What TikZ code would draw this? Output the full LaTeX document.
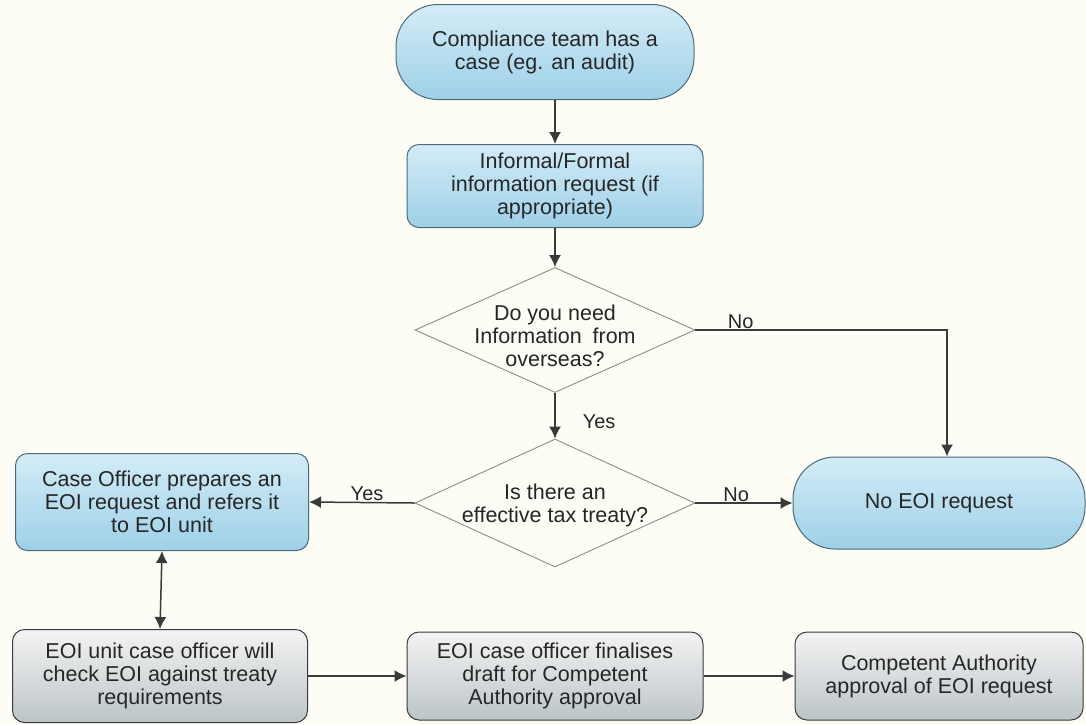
\documentclass[tikz,border=0pt]{standalone}
\usepackage{fontspec}
\setmainfont{Liberation Sans}
\usetikzlibrary{shapes.geometric,arrows.meta}

\definecolor{paper}{HTML}{FDFDF6}
\definecolor{bluetop}{HTML}{D3ECF7}
\definecolor{bluebot}{HTML}{9ED0E7}
\definecolor{blueline}{HTML}{4C6A7A}
\definecolor{graytop}{HTML}{F3F3F3}
\definecolor{graybot}{HTML}{BCC4C7}
\definecolor{grayline}{HTML}{3A3A3A}
\definecolor{ink}{HTML}{262626}
\definecolor{wire}{HTML}{3A3A3A}
\definecolor{diamondline}{HTML}{8C8C8C}

\begin{document}
\begin{tikzpicture}[x=1pt, y=-1pt,
  every node/.style={font=\fontsize{21.5}{23}\selectfont, text=ink, align=center},
  bluebox/.style={draw=blueline, line width=1pt, top color=bluetop, bottom color=bluebot,
    rounded corners=12pt, inner sep=0pt},
  blueterm/.style={bluebox, rounded corners=42pt},
  graybox/.style={draw=grayline, line width=1pt, top color=graytop, bottom color=graybot,
    rounded corners=12pt, inner sep=0pt},
  decision/.style={diamond, draw=diamondline, line width=0.9pt, fill=paper, inner sep=0pt},
  tip/.style={Latex[length=12pt,width=12pt]},
  arr/.style={draw=wire, line width=1.5pt, -{Latex[length=12pt,width=12pt]}},
  twoway/.style={draw=wire, line width=1.5pt, {Latex[length=12pt,width=12pt]}-{Latex[length=12pt,width=12pt]}},
  lbl/.style={font=\fontsize{20}{22}\selectfont, inner sep=1pt}
]
\useasboundingbox (0,0) rectangle (1086,724);
\fill[paper] (0,0) rectangle (1086,724);

% start of the process
\node[blueterm, minimum width=298pt, minimum height=95pt] (start) at (545,52)
  {Compliance team has a\\case (eg. an audit)};
\node[bluebox, minimum width=296pt, minimum height=83pt] (info) at (555,186)
  {Informal/Formal\\information request (if\\appropriate)};

% decisions
\node[decision, minimum width=280pt, minimum height=125pt,
  label={[align=center, yshift=-6pt]center:Do you need\\Information\enspace from\\overseas?}] (d1) at (555,330) {};
\node[decision, minimum width=280pt, minimum height=128pt,
  label={[align=center, yshift=-2pt]center:Is there an\\effective tax treaty?}] (d2) at (555,503) {};

% outcomes
\node[blueterm, minimum width=292pt, minimum height=92pt] (noeoi) at (939,503) {No EOI request};
\node[bluebox, minimum width=293pt, minimum height=97pt] (case) at (162,502)
  {Case Officer prepares an\\EOI request and refers it\\to EOI unit};

% EOI unit workflow
\node[graybox, minimum width=295pt, minimum height=93pt] (unit) at (160,676)
  {EOI unit case officer will\\check EOI against treaty\\requirements};
\node[graybox, minimum width=296pt, minimum height=88pt] (final) at (555,676)
  {EOI case officer finalises\\draft for Competent\\Authority approval};
\node[graybox, minimum width=288pt, minimum height=88pt] (ca) at (939,676)
  {Competent Authority\\approval of EOI request};

% connectors
\draw[arr] (start.south -| info.north) -- (info.north);
\draw[arr] (info.south) -- (d1.north);
\draw[arr] (d1.south) -- node[lbl, right, xshift=26pt, pos=0.62] {Yes} (d2.north);
\draw[arr] (d1.east) -| node[lbl, above, pos=0.09] {No} ([xshift=8pt]noeoi.north);
\draw[arr] (d2.west) -- node[lbl, above, pos=0.45] {Yes} (case.east);
\draw[arr] (d2.east) -- node[lbl, above, pos=0.42] {No} (noeoi.west);
\draw[twoway] (case.south) -- (unit.north);
\draw[arr] (unit.east) -- (final.west);
\draw[arr] (final.east) -- (ca.west);
\end{tikzpicture}
\end{document}
